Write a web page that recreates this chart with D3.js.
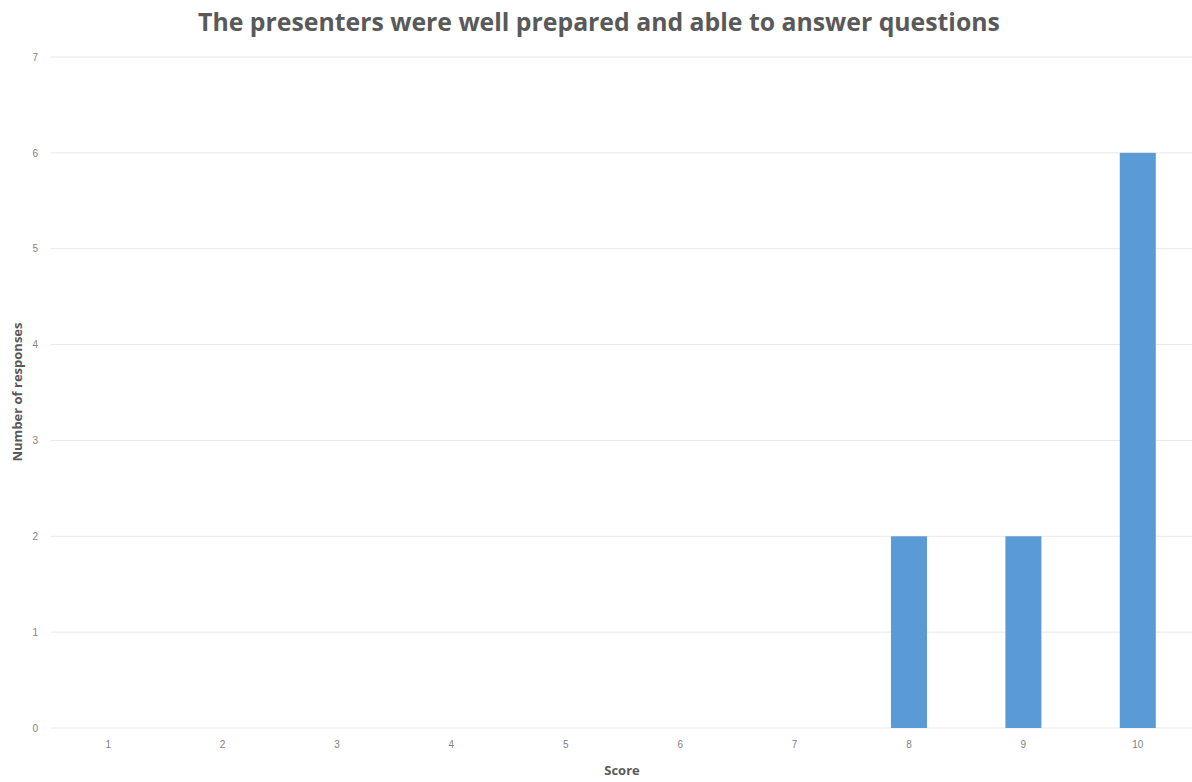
<!DOCTYPE html>
<html>
<head>
<meta charset="utf-8">
<script src="https://cdn.jsdelivr.net/npm/d3@7"></script>
<style>
  body { margin: 0; background: #fff; }
  svg { display: block; font-family: "Open Sans", sans-serif; }
</style>
</head>
<body>
<div class="chart-wrapper"></div>
<script>
// chart data
const scores = ["1", "2", "3", "4", "5", "6", "7", "8", "9", "10"];
const responses = [0, 0, 0, 0, 0, 0, 0, 2, 2, 6];
const yTicks = [0, 1, 2, 3, 4, 5, 6, 7];

const svgWidth = 1192;
const svgHeight = 782;
const margin = { top: 57, right: -3, bottom: 54, left: 51 };
const innerWidth = svgWidth - margin.left - margin.right;
const innerHeight = svgHeight - margin.top - margin.bottom;

const svg = d3.select(".chart-wrapper")
    .append("svg")
    .attr("width", svgWidth)
    .attr("height", svgHeight);

const chart = svg.append("g")
    .attr("transform", `translate(${margin.left},${margin.top})`);

const xScale = d3.scaleBand()
    .domain(scores)
    .range([0, innerWidth])
    .paddingInner(0.685)
    .paddingOuter(0.3425);

const yScale = d3.scaleLinear()
    .domain([0, 7])
    .range([innerHeight, 0]);

// gridlines
chart.selectAll(".grid")
    .data(yTicks)
    .enter()
    .append("line")
    .attr("class", "grid")
    .attr("x1", 0)
    .attr("x2", svgWidth - margin.left)
    .attr("y1", d => yScale(d))
    .attr("y2", d => yScale(d))
    .attr("stroke", "#e8e8e8")
    .attr("stroke-width", 1);

// y axis labels
const yAxis = d3.axisLeft(yScale)
    .tickValues(yTicks)
    .tickFormat(d3.format("d"))
    .tickSize(0)
    .tickPadding(13);
chart.append("g")
    .call(yAxis)
    .call(g => g.select(".domain").remove())
    .selectAll("text")
    .style("font-size", "10px")
    .style("fill", "#7f7f7f");

// x axis labels
const xAxis = d3.axisBottom(xScale).tickSize(0).tickPadding(13);
chart.append("g")
    .attr("transform", `translate(0,${innerHeight})`)
    .call(xAxis)
    .call(g => g.select(".domain").remove())
    .selectAll("text")
    .style("font-size", "10px")
    .style("fill", "#7f7f7f");

// bars
chart.selectAll(".bar")
    .data(responses)
    .enter()
    .append("rect")
    .attr("class", "bar")
    .attr("x", (d, i) => xScale(scores[i]))
    .attr("width", xScale.bandwidth())
    .attr("y", d => yScale(d))
    .attr("height", d => innerHeight - yScale(d))
    .attr("fill", "#5b9bd5");

// title
svg.append("text")
    .attr("x", 599)
    .attr("y", 31)
    .attr("text-anchor", "middle")
    .style("font-size", "24.8px")
    .style("font-weight", "700")
    .style("fill", "#595959")
    .text("The presenters were well prepared and able to answer questions");

// axis titles
svg.append("text")
    .attr("x", 622)
    .attr("y", 775)
    .attr("text-anchor", "middle")
    .style("font-size", "13px")
    .style("font-weight", "700")
    .style("fill", "#595959")
    .text("Score");

svg.append("text")
    .attr("transform", `translate(22,${392}) rotate(-90)`)
    .attr("text-anchor", "middle")
    .style("font-size", "13px")
    .style("font-weight", "700")
    .style("fill", "#595959")
    .text("Number of responses");
</script>
</body>
</html>
